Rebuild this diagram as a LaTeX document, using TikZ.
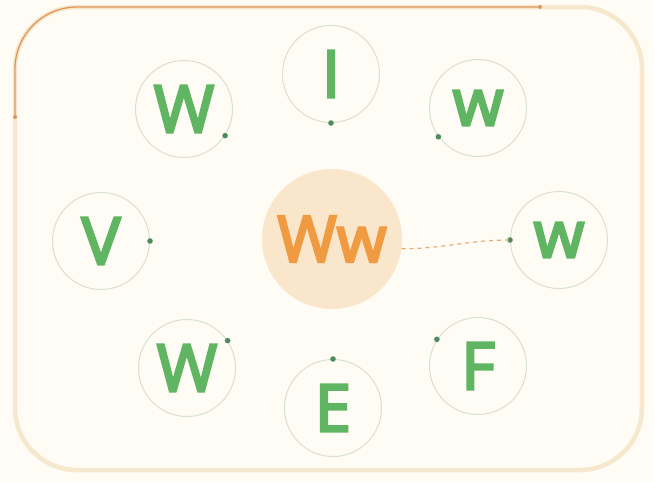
\documentclass[tikz,border=0pt]{standalone}
\usepackage{fontspec}
\setmainfont{Open Sans}
\newfontfamily\letrafont[FakeBold=4]{Open Sans}

\definecolor{fondo}{HTML}{FFFCF6}
\definecolor{marco}{HTML}{F6E8CD}
\definecolor{naranja}{HTML}{F09A42}
\definecolor{verde}{HTML}{5FB562}
\definecolor{verdeosc}{HTML}{4E8C5E}
\definecolor{aro}{HTML}{D5E2D0}
\definecolor{melocoton}{HTML}{FAE6CB}
\definecolor{linea}{HTML}{E0985A}
\definecolor{trazo}{HTML}{ECAB6E}

\begin{document}
\begin{tikzpicture}[
    x=1pt,
    y=-1pt,
    letra/.style={circle, draw=aro, line width=1pt, minimum size=97pt,
      inner sep=0pt, text=verde, font=\letrafont\fontsize{65}{65}\selectfont},
    centro/.style={circle, fill=melocoton, minimum size=140pt, inner sep=0pt,
      text=naranja, font=\letrafont\fontsize{64}{64}\selectfont},
    punto/.style={fill=verdeosc}
  ]
    \useasboundingbox (0,0) rectangle (654,482);
    \fill[fondo] (0,0) rectangle (654,482);

    % Marco
    \draw[marco, line width=4.5pt, rounded corners=62pt] (15,7) rectangle (642,470);
    \coordinate (ini) at (15,117);
    \coordinate (fin) at (540,7);
    \draw[linea, line width=1.3pt, rounded corners=62pt] (ini) |- (fin);
    \fill[linea] (ini) circle (2pt);
    \fill[linea] (fin) circle (2pt);

    % Centro
    \node[centro] (ww) at (332,239) {Ww};

    % Letras alrededor
    \node[letra] (wsi) at (184,109) {W};
    \node[letra] (ii)  at (331,74)  {I};
    \node[letra] (wsd) at (478,108) {w};
    \node[letra] (vv)  at (101,241) {V};
    \node[letra] (wd)  at (559,240) {w};
    \node[letra] (wii) at (187,368) {W};
    \node[letra] (ee)  at (333,408) {E};
    \node[letra] (ff)  at (478,366) {F};

    % Puntos sobre los aros
    \fill[punto] (wsi.-33) circle (2.8pt);
    \fill[punto] (ii.-90)  circle (2.8pt);
    \fill[punto] (wsd.216) circle (2.8pt);
    \fill[punto] (vv.0)    circle (2.8pt);
    \fill[punto] (wd.180)  circle (2.8pt);
    \fill[punto] (wii.34)  circle (2.8pt);
    \fill[punto] (ee.90)   circle (2.8pt);
    \fill[punto] (ff.147)  circle (2.8pt);

    % Enlace
    \draw[trazo, line width=1.2pt, dash pattern=on 4pt off 4pt]
      (ww.-8) to[out=0, in=180] (wd.180);
  \end{tikzpicture}
\end{document}
